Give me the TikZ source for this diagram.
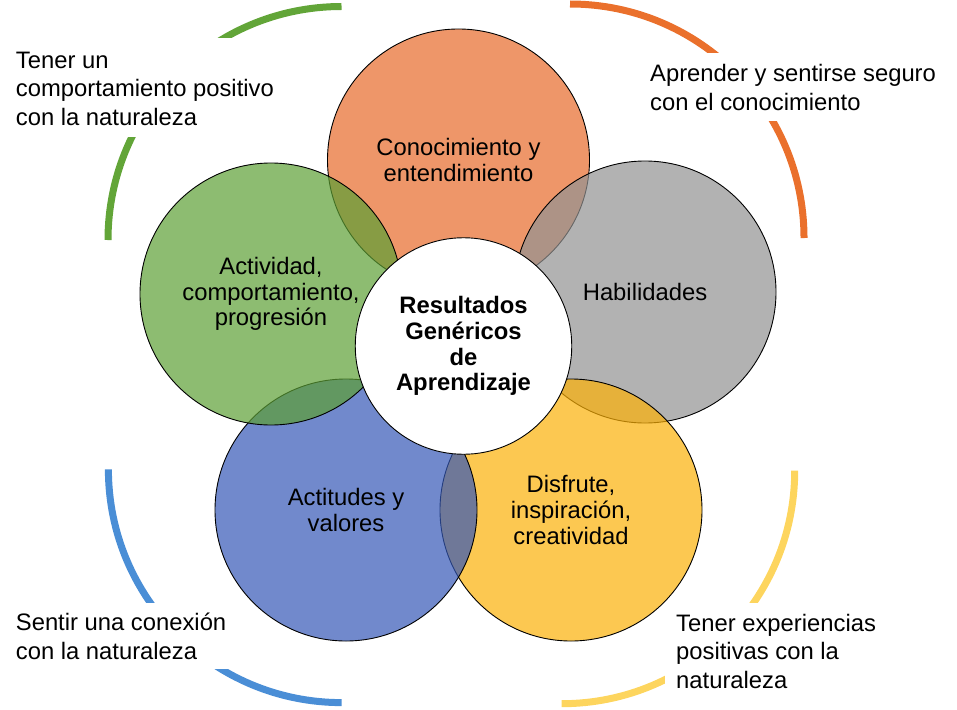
\documentclass[tikz,border=0pt]{standalone}
\usepackage{fontspec}
\setmainfont{Liberation Sans}
\newcommand\circfont{\fontsize{23.8}{25.7}\selectfont}
\newcommand\notefont{\fontsize{23.8}{28.5}\selectfont}
\definecolor{cOrange}{RGB}{231,106,41}
\definecolor{cGray}{RGB}{146,146,146}
\definecolor{cYellow}{RGB}{251,176,7}
\definecolor{cBlue}{RGB}{52,87,182}
\definecolor{cGreen}{RGB}{92,159,52}
\definecolor{aGreen}{RGB}{98,165,56}
\definecolor{aOrange}{RGB}{234,112,44}
\definecolor{aBlue}{RGB}{74,142,214}
\definecolor{aYellow}{RGB}{253,213,94}
\tikzset{
  petal/.style={circle, draw=black, line width=0.9pt, minimum size=262pt, inner sep=0pt,
    fill opacity=0.7, text opacity=1, align=center, font=\circfont},
  hub/.style={circle, draw=black, line width=0.9pt, fill=white, minimum size=216.5pt,
    inner sep=0pt, align=center, font=\circfont\bfseries},
  ring/.style={line width=7pt},
  note/.style={anchor=base west, align=left, inner sep=0pt, font=\notefont},
}
\begin{document}
\begin{tikzpicture}[x=1pt,y=-1pt]
\useasboundingbox (0,0) rectangle (957,709);
% outer quarter arcs
\draw[ring, aGreen] (341.5,6.5) arc[start angle=-90, end angle=-180, radius=233.5];
\draw[ring, aOrange] (570,4) arc[start angle=-90, end angle=0, radius=234];
\draw[ring, aBlue] (108.4,469.3) arc[start angle=180, end angle=90, radius=233.3];
\draw[ring, aYellow] (561.7,703.7) arc[start angle=90, end angle=0, radius=233];
% white text boxes
\fill[white] (5,38) rectangle (290,137);
\fill[white] (640,53) rectangle (952,121);
\fill[white] (5,603) rectangle (240,669);
\fill[white] (665,603) rectangle (952,709);
% outer texts (anchored at the baseline of the last line)
\node[note] (tl) at (15.7,125.3) {Tener un\\comportamiento positivo\\con la naturaleza};
\node[note] (tr) at (650,110.2) {Aprender y sentirse seguro\\con el conocimiento};
\node[note] (bl) at (15.7,659.3) {Sentir una conexión\\con la naturaleza};
\node[note] (br) at (676,688.3) {Tener experiencias\\positivas con la\\naturaleza};
% petals
\node[petal, fill=cOrange] (know) at (458.5,160) {Conocimiento y\\entendimiento};
\node[petal, fill=cGray] (skill) at (645,292) {Habilidades};
\node[petal, fill=cYellow] (fun) at (571,510) {Disfrute,\\inspiración,\\creatividad};
\node[petal, fill=cBlue] (att) at (346,510) {Actitudes y\\valores};
\node[petal, fill=cGreen] (act) at (271,294) {Actividad,\\comportamiento,\\progresión};
% hub
\node[hub] (hub) at (463.5,346) {Resultados\\Genéricos\\de\\Aprendizaje};
\end{tikzpicture}
\end{document}
